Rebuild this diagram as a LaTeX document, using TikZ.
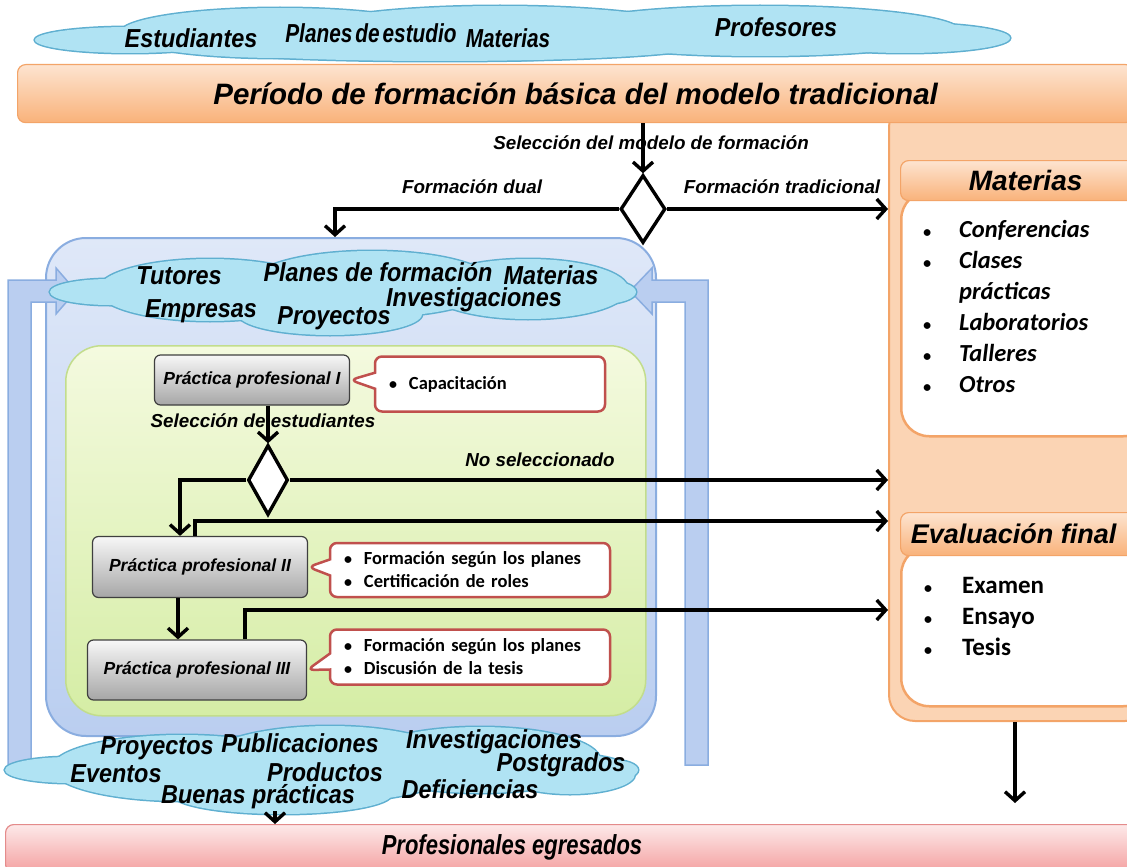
\documentclass[tikz,border=0pt]{standalone}
\usepackage{fontspec}
\setmainfont{Liberation Sans}
\newfontfamily\narrowf[FakeStretch=0.9]{Liberation Sans}
\newfontfamily\narrowerf[FakeStretch=0.8]{Liberation Sans}
\newfontfamily\calf{Carlito}
\usetikzlibrary{shapes.geometric,shapes.callouts,arrows.meta,shadings,calc}
\definecolor{cloudF}{HTML}{B0E3F3}
\definecolor{cloudE}{HTML}{5FAFD0}
\definecolor{orTop}{HTML}{FDE4D0}
\definecolor{orBot}{HTML}{F9B27A}
\definecolor{orEdge}{HTML}{F3A468}
\definecolor{colF}{HTML}{FBD4B4}
\definecolor{blTop}{HTML}{DFE8F8}
\definecolor{blBot}{HTML}{BACEF0}
\definecolor{blEdge}{HTML}{8AADE0}
\definecolor{grTop}{HTML}{F4FADF}
\definecolor{grBot}{HTML}{D5EDA5}
\definecolor{grEdge}{HTML}{C2DD8C}
\definecolor{gyTop}{HTML}{F7F7F7}
\definecolor{gyBot}{HTML}{A6A6A6}
\definecolor{gyEdge}{HTML}{3F3F3F}
\definecolor{clEdge}{HTML}{C0504D}
\definecolor{pkTop}{HTML}{FDE9E9}
\definecolor{pkBot}{HTML}{F4A0A0}
\definecolor{pkEdge}{HTML}{E48B8B}
\newcommand\cloudshape[1]{%
  \foreach \cx/\cy/\rx/\ry in {#1}{\draw[cloudE,line width=3pt] (\cx,\cy) ellipse [x radius=\rx, y radius=\ry];}%
  \foreach \cx/\cy/\rx/\ry in {#1}{\fill[cloudF] (\cx,\cy) ellipse [x radius=\rx, y radius=\ry];}}
\newcommand\smb{{\fontsize{16}{16}\selectfont\textbullet}}
\begin{document}
\begin{tikzpicture}[x=1pt,y=-1pt,
  arr/.style={-{Straight Barb[length=9pt,width=20pt]}, line width=3.4pt, black},
  lbl/.style={font=\fontsize{18.8}{20}\selectfont\bfseries\itshape, inner sep=1pt},
  ctxt/.style={font=\narrowf\fontsize{26}{28}\selectfont\bfseries\itshape, inner sep=1pt},
  ctxtn/.style={font=\narrowerf\fontsize{26}{28}\selectfont\bfseries\itshape, inner sep=1pt},
  diam/.style={diamond, draw, line width=3.4pt, fill=white, inner sep=0pt},
  gbox/.style={rounded corners=6pt, draw=gyEdge, line width=1.2pt, top color=gyTop, bottom color=gyBot, font=\fontsize{17.5}{19}\selectfont\bfseries\itshape},
  callbox/.style={rectangle callout, draw=clEdge, line width=2.5pt, fill=white, rounded corners=7pt, align=left, font=\calf\fontsize{18.5}{23}\selectfont\bfseries, inner xsep=14pt, callout pointer width=16pt},
  hdr/.style={rounded corners=8pt, draw=orEdge, line width=1.2pt, top color=orTop, bottom color=orBot, font=\fontsize{28}{30}\selectfont\bfseries\itshape},
  body/.style={rounded corners=28pt, draw=orEdge, line width=2.5pt, fill=white},
  bar/.style={fill=blBot, draw=blEdge, line width=1.5pt}
]
\path[use as bounding box] (0,0) rectangle (1127,867);

% right orange column
\node[draw=orEdge, line width=2pt, fill=colF, rounded corners=26pt, minimum width=262, minimum height=620, anchor=north west, inner sep=0pt] (rcol) at (888,100) {};

% top cloud
\cloudshape{130/40/95/13, 280/33/160/25, 500/33/200/27, 760/31/200/25, 905/38/105/15, 440/46/260/15}
\node[ctxt] (c1a) at (191,38) {Estudiantes};
\node[ctxtn] (c1b) at (371,33) {Planes\hspace{3pt}de\hspace{3pt}estudio};
\node[ctxtn] (c1c) at (508,38) {Materias};
\node[ctxt] (c1d) at (776,27) {Profesores};

% banner
\node[rounded corners=8pt, draw=orEdge, line width=1.2pt, top color=orTop, bottom color=orBot, minimum width=1116, minimum height=58, anchor=north west, font=\fontsize{29.5}{31}\selectfont\bfseries\itshape] (ban) at (17,64) {Período de formación básica del modelo tradicional};

% first decision
\node[diam, minimum width=45, minimum height=68] (d1) at (643,209) {};
\draw[arr] (d1.north |- ban.south) -- (d1.north);
\node[lbl] (l1) at (651,143) {Selección del modelo de formación};
\node[lbl] (l2) at (472,187) {Formación dual};
\node[lbl] (l3) at (782,187) {Formación tradicional};
\draw[arr] (d1.east) -- (d1.east -| rcol.west);

% blue frame
\node[rounded corners=40pt, draw=blEdge, line width=2pt, top color=blTop, bottom color=blBot, minimum width=610, minimum height=498, anchor=north west, inner sep=0pt] (frame) at (45,237) {};
\coordinate (dualend) at (335,237);
\draw[arr] (d1.west) -| (dualend);

% green area
\node[rounded corners=36pt, draw=grEdge, line width=1.5pt, top color=grTop, bottom color=grBot, minimum width=580, minimum height=370, anchor=north west, inner sep=0pt] (green) at (65,345) {};

% U-shaped blue arrows
\path[bar] (8,765) -- (8,280) -- (56,280) -- (56,268) -- (76,291) -- (56,314) -- (56,302) -- (31,302) -- (31,765) -- cycle;
\path[bar] (708,765) -- (708,280) -- (652,280) -- (652,268) -- (630,291) -- (652,314) -- (652,302) -- (685,302) -- (685,765) -- cycle;

% inner top cloud
\cloudshape{110/292/60/13, 210/290/112/31, 372/284/122/33, 528/289/100/30, 602/292/34/12, 330/314/92/21}
\node[ctxt] (c2a) at (179,276) {Tutores};
\node[ctxt] (c2b) at (378,272) {Planes de formación};
\node[ctxt] (c2c) at (551,275) {Materias};
\node[ctxt] (c2d) at (474,300) {Investigaciones};
\node[ctxt] (c2e) at (201,311) {Empresas};
\node[ctxt] (c2f) at (334,318) {Proyectos};

% practica I
\node[gbox, minimum width=195, minimum height=50] (pp1) at (252,380) {Práctica profesional I};
\node[callbox, text width=202, minimum height=55, callout absolute pointer={(pp1.east)}] (cb1) at (490,384) {\smb\hspace{12pt}Capacitación};
\node[lbl] (l4) at (263,421) {Selección de estudiantes};

\node[diam, minimum width=40, minimum height=70] (d2) at (268,480) {};
\draw[arr] (d2.north |- pp1.south) -- (d2.north);
\node[lbl] (l5) at (540,460) {No seleccionado};
\draw[arr] (d2.east) -- (d2.east -| rcol.west);

% practica II
\node[gbox, minimum width=215, minimum height=61] (pp2) at (200,567) {Práctica profesional II};
\node[callbox, text width=252, minimum height=54, callout absolute pointer={(pp2.east)}] (cb2) at (470,570) {\smb\hspace{12pt}Formación según los planes\\\smb\hspace{12pt}Certificación de roles};
\draw[arr] (d2.west) -| ($(pp2.north)+(-20,0)$);
\coordinate (t2) at (888,521);
\draw[arr] ($(pp2.north)+(-5,0)$) |- (t2);

% practica III
\node[gbox, minimum width=219, minimum height=60] (pp3) at (197,670) {Práctica profesional III};
\node[callbox, text width=252, minimum height=55, callout absolute pointer={(pp3.east)}] (cb3) at (470,657) {\smb\hspace{12pt}Formación según los planes\\\smb\hspace{12pt}Discusión de la tesis};
\draw[arr] ($(pp2.south)+(-22,0)$) -- ($(pp3.north)+(-19,0)$);
\coordinate (t3) at (888,610);
\draw[arr] ($(pp3.north)+(48,0)$) |- (t3);

% Materias box
\node[body, minimum width=250, minimum height=245, anchor=north west] (mb) at (900,190) {};
\node[hdr, minimum width=250, minimum height=40, anchor=north west] (mh) at (900,160) {Materias};
\node[anchor=north west, inner sep=0pt, font=\calf\fontsize{24.5}{31}\selectfont\bfseries\itshape] (ml) at (923,216) {\begin{tabular}{@{}l@{\hspace{28pt}}l@{}}\smb & Conferencias\\ \smb & Clases\\ & prácticas\\ \smb & Laboratorios\\ \smb & Talleres\\ \smb & Otros\end{tabular}};

% Evaluacion final box
\node[body, minimum width=250, minimum height=160, anchor=north west] (eb) at (900,545) {};
\node[hdr, minimum width=250, minimum height=43, anchor=north west, font=\fontsize{27}{29}\selectfont\bfseries\itshape] (eh) at (900,512) {Evaluación final\rule{24pt}{0pt}};
\node[anchor=north west, inner sep=0pt, font=\calf\fontsize{25}{31}\selectfont\bfseries] (el) at (924,572) {\begin{tabular}{@{}l@{\hspace{30pt}}l@{}}\smb & Examen\\ \smb & Ensayo\\ \smb & Tesis\end{tabular}};

% bottom cloud
\cloudshape{70/770/65/13, 182/768/130/33, 330/764/130/38, 480/760/120/33, 570/774/65/20, 612/770/26/10, 282/794/110/20}
\node[ctxt] (c3a) at (157,748) {Proyectos};
\node[ctxt] (c3b) at (300,743) {Publicaciones};
\node[ctxt] (c3c) at (494,742) {Investigaciones};
\node[ctxt] (c3d) at (116,774) {Eventos};
\node[ctxt] (c3e) at (325,772) {Productos};
\node[ctxt] (c3f) at (561,765) {Postgrados};
\node[ctxt] (c3g) at (258,797) {Buenas prácticas};
\node[ctxt] (c3h) at (470,789) {Deficiencias};
\coordinate (bcl) at (275,811);

% bottom banner
\node[rounded corners=8pt, draw=pkEdge, line width=1.2pt, top color=pkTop, bottom color=pkBot, minimum width=1140, minimum height=48, anchor=north west] (prof) at (5,824) {};
\node[font=\narrowerf\fontsize{27.5}{29}\selectfont\bfseries\itshape] (proft) at (512,847) {Profesionales egresados};
\draw[arr] (bcl) -- (bcl |- prof.north);
\coordinate (e1) at (1015,803);
\draw[arr] (e1 |- rcol.south) -- (e1);
\end{tikzpicture}
\end{document}
